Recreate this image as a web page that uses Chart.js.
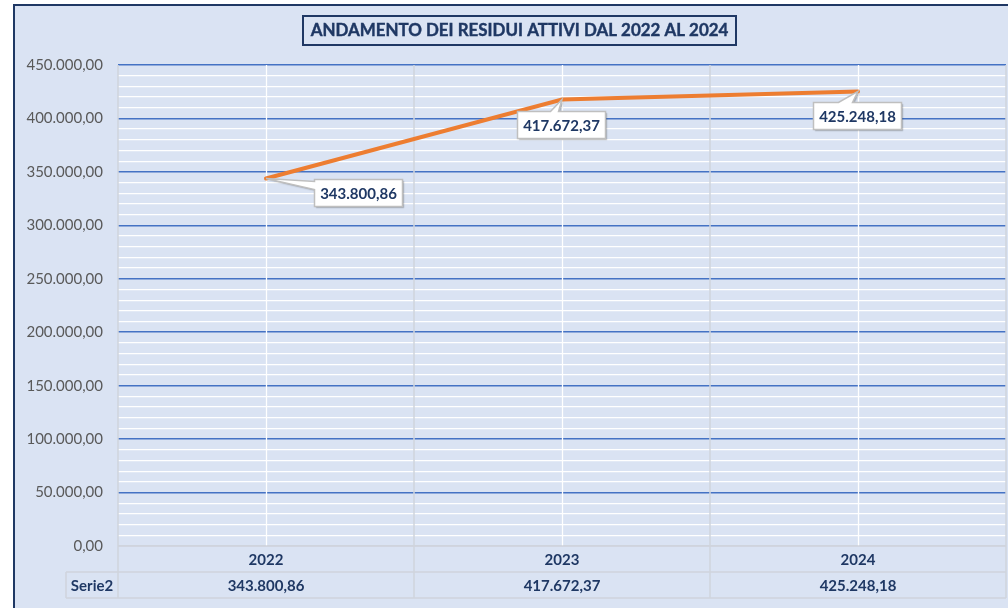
<!DOCTYPE html>
<html><head><meta charset="utf-8">
<script src="https://cdn.jsdelivr.net/npm/chart.js@4.4.1/dist/chart.umd.min.js"></script>
<style>html,body{margin:0;padding:0;background:#fff;overflow:hidden}#wrap{width:1008px;height:608px;position:relative}</style>
</head><body><div id="wrap"><canvas id="c" width="1008" height="608"></canvas></div>
<script>
// ---- data ----
const categories = ['2022', '2023', '2024'];
const seriesName = 'Serie2';
const values = [343800.86, 417672.37, 425248.18];
const chartTitle = 'ANDAMENTO DEI RESIDUI ATTIVI DAL 2022 AL 2024';
const yMin = 0, yMax = 450000, majorStep = 50000, minorStep = 10000;

// ---- style ----
const NAVY = '#1F3864';
const BG = '#DAE3F3';
const TABLE_LINE = '#CFD4DD';
const FONT = 'Lato, "Open Sans", sans-serif';
// callout placement relative to the data point: box offset, pointer edge and base
const calloutStyle = [
  {dx: 48, dy: 0, side: 'left', b0: 2, b1: 10},
  {dx: -45, dy: 11, side: 'top', b0: 33, b1: 41},
  {dx: -45, dy: 11, side: 'top', b0: 25, b1: 39}
];

function fmt(v) {
  const parts = Math.abs(v).toFixed(2).split('.');
  const i = parts[0].replace(/\B(?=(\d{3})+(?!\d))/g, '.');
  return (v < 0 ? '-' : '') + i + ',' + parts[1];
}

const framePlugin = {
  id: 'frame',
  beforeDraw(chart) {
    const ctx = chart.ctx;
    ctx.save();
    ctx.fillStyle = '#FFFFFF';
    ctx.fillRect(0, 0, chart.width, chart.height);
    ctx.fillStyle = BG;
    ctx.fillRect(13, 5, chart.width, chart.height);
    ctx.strokeStyle = NAVY;
    ctx.lineWidth = 2;
    ctx.strokeRect(14, 5, chart.width + 20, chart.height + 20);
    // title box
    const cx = 519.5, cy = 31;
    let size = 16;
    ctx.font = 'bold ' + size + 'px ' + FONT;
    const w0 = ctx.measureText(chartTitle).width;
    size = size * 418 / w0;
    ctx.font = 'bold ' + size.toFixed(2) + 'px ' + FONT;
    ctx.strokeStyle = NAVY;
    ctx.lineWidth = 2;
    ctx.strokeRect(303, 16, 433, 29);
    ctx.fillStyle = NAVY;
    ctx.textAlign = 'center';
    ctx.textBaseline = 'middle';
    ctx.fillText(chartTitle, cx, cy);
    ctx.lineWidth = 0.4;
    ctx.strokeStyle = NAVY;
    ctx.strokeText(chartTitle, cx, cy);
    ctx.restore();
  },
  beforeDatasetsDraw(chart) {
    const ctx = chart.ctx, ca = chart.chartArea, xs = chart.scales.x;
    const rowH = 26;
    const tableBottom = ca.bottom + 2 * rowH;
    ctx.save();
    // white vertical lines at category centres
    ctx.strokeStyle = '#FFFFFF';
    ctx.lineWidth = 1.3;
    categories.forEach((c, i) => {
      const x = Math.round(xs.getPixelForValue(i)) + 0.5;
      ctx.beginPath(); ctx.moveTo(x, ca.top); ctx.lineTo(x, ca.bottom); ctx.stroke();
    });
    // gray boundaries extended through the data table
    ctx.strokeStyle = TABLE_LINE;
    ctx.lineWidth = 1.5;
    const bounds = [ca.left];
    for (let i = 0; i < categories.length - 1; i++) {
      bounds.push((xs.getPixelForValue(i) + xs.getPixelForValue(i + 1)) / 2);
    }
    bounds.push(ca.right);
    bounds.forEach(b => {
      const x = Math.round(b);
      ctx.beginPath(); ctx.moveTo(x, ca.top); ctx.lineTo(x, tableBottom); ctx.stroke();
    });
    const legendLeft = 66;
    ctx.beginPath();
    ctx.moveTo(ca.left, ca.bottom); ctx.lineTo(ca.right, ca.bottom);
    ctx.moveTo(legendLeft, ca.bottom + rowH); ctx.lineTo(ca.right, ca.bottom + rowH);
    ctx.moveTo(legendLeft, tableBottom); ctx.lineTo(ca.right, tableBottom);
    ctx.moveTo(legendLeft, ca.bottom + rowH); ctx.lineTo(legendLeft, tableBottom);
    ctx.stroke();
    // table text
    ctx.fillStyle = NAVY;
    ctx.font = 'bold 15px ' + FONT;
    ctx.textAlign = 'center';
    ctx.textBaseline = 'middle';
    categories.forEach((c, i) => {
      const x = xs.getPixelForValue(i);
      ctx.fillText(c, x, ca.bottom + rowH / 2 + 1);
      ctx.fillText(fmt(values[i]), x, ca.bottom + rowH * 1.5 + 1);
    });
    ctx.fillText(seriesName, (legendLeft + ca.left) / 2, ca.bottom + rowH * 1.5 + 1);
    ctx.restore();
  },
  afterDatasetsDraw(chart) {
    const ctx = chart.ctx, xs = chart.scales.x, ys = chart.scales.y;
    ctx.save();
    ctx.font = 'bold 15px ' + FONT;
    values.forEach((v, i) => {
      const px = xs.getPixelForValue(i), py = ys.getPixelForValue(v);
      const st = calloutStyle[i];
      const text = fmt(v);
      const bw = Math.round(ctx.measureText(text).width + 11), bh = 27;
      const bx = Math.round(px + st.dx) + 0.5, by = Math.round(py + st.dy) + 0.5;
      ctx.beginPath();
      ctx.moveTo(bx, by);
      if (st.side === 'top') {
        ctx.lineTo(bx + st.b0, by); ctx.lineTo(px, py); ctx.lineTo(bx + st.b1, by);
      }
      ctx.lineTo(bx + bw, by);
      ctx.lineTo(bx + bw, by + bh);
      ctx.lineTo(bx, by + bh);
      if (st.side === 'left') {
        ctx.lineTo(bx, by + st.b1); ctx.lineTo(px, py); ctx.lineTo(bx, by + st.b0);
      }
      ctx.closePath();
      ctx.save();
      ctx.shadowColor = 'rgba(0,0,0,0.28)';
      ctx.shadowOffsetX = 1.5;
      ctx.shadowOffsetY = 1.5;
      ctx.shadowBlur = 1.5;
      ctx.fillStyle = '#FFFFFF';
      ctx.fill();
      ctx.restore();
      ctx.strokeStyle = '#BFBFBF';
      ctx.lineWidth = 1.5;
      ctx.stroke();
      ctx.fillStyle = NAVY;
      ctx.textAlign = 'center';
      ctx.textBaseline = 'middle';
      ctx.fillText(text, bx + bw / 2, by + bh / 2 + 1);
    });
    ctx.restore();
  }
};

new Chart(document.getElementById('c'), {
  type: 'line',
  data: {
    labels: categories,
    datasets: [{
      label: seriesName,
      data: values,
      borderColor: '#ED7D31',
      borderWidth: 4,
      borderCapStyle: 'round',
      pointRadius: 0,
      pointHoverRadius: 0,
      tension: 0,
      fill: false
    }]
  },
  options: {
    responsive: false,
    devicePixelRatio: 1,
    animation: false,
    events: [],
    layout: {padding: {left: 0, right: 2, top: 65, bottom: 62}},
    plugins: {legend: {display: false}, title: {display: false}, tooltip: {enabled: false}},
    scales: {
      x: {
        type: 'category',
        offset: true,
        grid: {display: false, drawTicks: false},
        border: {display: false},
        ticks: {display: false},
        afterFit: s => { s.height = 0; }
      },
      y: {
        min: yMin,
        max: yMax,
        border: {display: false},
        grid: {
          drawTicks: false,
          color: c => c.tick.value === 0 ? TABLE_LINE : (c.tick.value % majorStep === 0 ? '#4472C4' : '#FFFFFF'),
          lineWidth: c => c.tick.value % majorStep === 0 ? 1.5 : 1.3
        },
        ticks: {
          stepSize: minorStep,
          autoSkip: false,
          padding: 15,
          color: '#595959',
          font: {family: FONT, size: 15},
          callback: v => v % majorStep === 0 ? fmt(v) : ''
        },
        afterFit: s => { s.width = 118; }
      }
    }
  },
  plugins: [framePlugin]
});
</script>
</body></html>
